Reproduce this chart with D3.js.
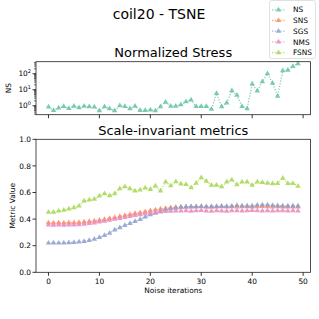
<!DOCTYPE html>
<html>
<head>
<meta charset="utf-8">
<script src="https://cdn.jsdelivr.net/npm/d3@7"></script>
<style>
  body { margin: 0; background: #fff; }
  text { font-family: "DejaVu Sans", sans-serif; fill: #000; }
</style>
</head>
<body>
<div id="chart"></div>
<script>
// ---- data ----
const iterations = d3.range(0, 50);
const seriesNames = ["NS", "SNS", "SGS", "NMS", "FSNS"];
const seriesColors = ["#66c2a5", "#fc8d62", "#8da0cb", "#e78ac3", "#a6d854"];

const nsValues = [0.83, 0.51, 0.72, 0.9, 0.69, 0.95, 0.75, 0.95, 0.88, 0.83,
  0.49, 0.88, 0.65, 0.49, 1.0, 0.9, 0.65, 0.95, 0.51, 0.51,
  0.55, 0.49, 0.88, 1.7, 0.95, 0.95, 1.15, 1.78, 2.3, 0.9,
  0.9, 0.9, 0.6, 5.8, 0.87, 1.5, 8.7, 4.5, 0.92, 0.65,
  23, 8.3, 32, 100, 26, 4, 155, 165, 290, 420];

const snsValues = [0.373, 0.372, 0.373, 0.372, 0.373, 0.374, 0.375, 0.378, 0.382, 0.386,
  0.392, 0.398, 0.405, 0.412, 0.42, 0.428, 0.435, 0.442, 0.449, 0.455,
  0.463, 0.47, 0.476, 0.481, 0.486, 0.489, 0.49, 0.492, 0.491, 0.493,
  0.494, 0.492, 0.49, 0.492, 0.493, 0.491, 0.493, 0.492, 0.494, 0.493,
  0.492, 0.494, 0.495, 0.493, 0.492, 0.493, 0.492, 0.491, 0.492, 0.491];

const sgsValues = [0.22, 0.221, 0.22, 0.221, 0.222, 0.225, 0.228, 0.233, 0.24, 0.25,
  0.262, 0.278, 0.295, 0.318, 0.335, 0.353, 0.368, 0.383, 0.398, 0.416,
  0.433, 0.444, 0.459, 0.471, 0.478, 0.483, 0.49, 0.492, 0.493, 0.494,
  0.495, 0.494, 0.496, 0.495, 0.497, 0.496, 0.498, 0.502, 0.5, 0.499,
  0.5, 0.505, 0.506, 0.507, 0.503, 0.501, 0.5, 0.499, 0.5, 0.499];

const nmsValues = [0.356, 0.355, 0.356, 0.355, 0.356, 0.357, 0.358, 0.362, 0.367, 0.372,
  0.378, 0.385, 0.392, 0.399, 0.406, 0.413, 0.42, 0.427, 0.434, 0.44,
  0.446, 0.45, 0.454, 0.457, 0.459, 0.461, 0.462, 0.463, 0.46, 0.464,
  0.465, 0.462, 0.46, 0.463, 0.462, 0.46, 0.464, 0.463, 0.461, 0.463,
  0.465, 0.463, 0.462, 0.464, 0.461, 0.463, 0.464, 0.462, 0.463, 0.461];

const fsnsValues = [0.453, 0.453, 0.461, 0.468, 0.476, 0.486, 0.5, 0.536, 0.544, 0.549,
  0.574, 0.591, 0.576, 0.591, 0.629, 0.644, 0.629, 0.611, 0.619, 0.634,
  0.624, 0.649, 0.611, 0.679, 0.651, 0.681, 0.664, 0.661, 0.636, 0.671,
  0.711, 0.686, 0.656, 0.656, 0.644, 0.679, 0.694, 0.659, 0.679, 0.679,
  0.656, 0.679, 0.676, 0.671, 0.666, 0.669, 0.707, 0.669, 0.669, 0.647];

const xTicks = [0, 10, 20, 30, 40, 50];
const metricTicks = [0, 0.2, 0.4, 0.6, 0.8, 1.0];
const nsTicks = [1, 10, 100];

// ---- layout ----
const W = 319, H = 319;
const left = 36, right = 310.5;
const top1 = 61.7, bottom1 = 114.7;
const top2 = 139.3, bottom2 = 272.3;
const tickFont = 7.4;

const svg = d3.select("#chart").append("svg")
  .attr("width", W).attr("height", H);

const x = d3.scaleLinear().domain([-2.45, 51.45]).range([left, right]);
const yNS = d3.scaleLog().domain([Math.pow(10, -0.56), Math.pow(10, 2.75)]).range([bottom1, top1]);
const yM = d3.scaleLinear().domain([0, 1]).range([bottom2, top2]);

// titles
svg.append("text").attr("x", 159).attr("y", 18.5)
  .attr("text-anchor", "middle").style("font-size", "14px").text("coil20 - TSNE");
svg.append("text").attr("x", (left + right) / 2).attr("y", 57)
  .attr("text-anchor", "middle").style("font-size", "13px").text("Normalized Stress");
svg.append("text").attr("x", (left + right) / 2).attr("y", 135)
  .attr("text-anchor", "middle").style("font-size", "13px").text("Scale-invariant metrics");

const tri = d3.symbol().type(d3.symbolTriangle).size(13);

function drawSeries(g, values, yScale, color) {
  const line = d3.line().x((d, i) => x(iterations[i])).y(d => yScale(d));
  g.append("path").datum(values)
    .attr("d", line)
    .attr("fill", "none")
    .attr("stroke", color)
    .attr("stroke-width", 1.3)
    .attr("stroke-dasharray", "1.2,1.6")
    .attr("opacity", 0.8);
  g.selectAll(null).data(values).enter().append("path")
    .attr("d", tri)
    .attr("transform", (d, i) => `translate(${x(iterations[i])},${yScale(d)})`)
    .attr("fill", color)
    .attr("opacity", 0.85);
}

// ---- top panel ----
const g1 = svg.append("g");
drawSeries(g1, nsValues, yNS, seriesColors[0]);

// minor log ticks
const minorTicks = [];
for (let e = -1; e <= 2; e++) {
  for (let m = 2; m <= 9; m++) {
    const v = m * Math.pow(10, e);
    if (v >= yNS.domain()[0] && v <= yNS.domain()[1]) minorTicks.push(v);
  }
}
g1.selectAll(".minor").data(minorTicks).enter().append("line")
  .attr("x1", left).attr("x2", left - 2)
  .attr("y1", d => yNS(d)).attr("y2", d => yNS(d))
  .attr("stroke", "#000").attr("stroke-width", 0.6);
g1.selectAll(".major").data(nsTicks).enter().append("line")
  .attr("x1", left).attr("x2", left - 3.5)
  .attr("y1", d => yNS(d)).attr("y2", d => yNS(d))
  .attr("stroke", "#000").attr("stroke-width", 0.8);
const nsLab = g1.selectAll(".nslab").data(nsTicks).enter().append("text")
  .attr("x", left - 5).attr("y", d => yNS(d) + 2.6)
  .attr("text-anchor", "end").style("font-size", tickFont + "px");
nsLab.append("tspan").text("10");
nsLab.append("tspan").attr("dy", -3).style("font-size", "5px")
  .text(d => String(Math.round(Math.log10(d))));

g1.selectAll(".xt1").data(xTicks).enter().append("line")
  .attr("x1", d => x(d)).attr("x2", d => x(d))
  .attr("y1", bottom1).attr("y2", bottom1 + 3.5)
  .attr("stroke", "#000").attr("stroke-width", 0.8);

g1.append("rect").attr("x", left).attr("y", top1)
  .attr("width", right - left).attr("height", bottom1 - top1)
  .attr("fill", "none").attr("stroke", "#222").attr("stroke-width", 0.8);

svg.append("text")
  .attr("transform", `translate(11,${(top1 + bottom1) / 2}) rotate(-90)`)
  .attr("text-anchor", "middle").style("font-size", tickFont + "px").text("NS");

// ---- bottom panel ----
const g2 = svg.append("g");
const metricValues = [snsValues, sgsValues, nmsValues, fsnsValues];
metricValues.forEach((vals, k) => drawSeries(g2, vals, yM, seriesColors[k + 1]));

g2.selectAll(".yt").data(metricTicks).enter().append("line")
  .attr("x1", left).attr("x2", left - 3.5)
  .attr("y1", d => yM(d)).attr("y2", d => yM(d))
  .attr("stroke", "#000").attr("stroke-width", 0.8);
g2.selectAll(".ylab").data(metricTicks).enter().append("text")
  .attr("x", left - 5).attr("y", d => yM(d) + 2.6)
  .attr("text-anchor", "end").style("font-size", tickFont + "px")
  .text(d => d.toFixed(1));
g2.selectAll(".xt2").data(xTicks).enter().append("line")
  .attr("x1", d => x(d)).attr("x2", d => x(d))
  .attr("y1", bottom2).attr("y2", bottom2 + 3.5)
  .attr("stroke", "#000").attr("stroke-width", 0.8);
g2.selectAll(".xlab").data(xTicks).enter().append("text")
  .attr("x", d => x(d)).attr("y", bottom2 + 11.5)
  .attr("text-anchor", "middle").style("font-size", tickFont + "px")
  .text(d => d);

g2.append("rect").attr("x", left).attr("y", top2)
  .attr("width", right - left).attr("height", bottom2 - top2)
  .attr("fill", "none").attr("stroke", "#222").attr("stroke-width", 0.8);

svg.append("text")
  .attr("transform", `translate(15,${(top2 + bottom2) / 2}) rotate(-90)`)
  .attr("text-anchor", "middle").style("font-size", tickFont + "px").text("Metric Value");
svg.append("text").attr("x", (left + right) / 2).attr("y", bottom2 + 21)
  .attr("text-anchor", "middle").style("font-size", tickFont + "px").text("Noise iterations");

// ---- legend ----
const legend = svg.append("g");
legend.append("rect").attr("x", 269.5).attr("y", 0.5)
  .attr("width", 46).attr("height", 58).attr("rx", 2)
  .attr("fill", "#fff").attr("fill-opacity", 0.85)
  .attr("stroke", "#d8d8d8").attr("stroke-width", 0.8);
const items = legend.selectAll(".item").data(seriesNames).enter().append("g")
  .attr("transform", (d, i) => `translate(0,${9.8 + i * 10.7})`);
items.append("line").attr("x1", 272).attr("x2", 285).attr("y1", 0).attr("y2", 0)
  .attr("stroke", (d, i) => seriesColors[i]).attr("stroke-width", 1.3)
  .attr("stroke-dasharray", "1.2,1.6").attr("opacity", 0.8);
items.append("path").attr("d", tri).attr("transform", "translate(278.5,0)")
  .attr("fill", (d, i) => seriesColors[i]).attr("opacity", 0.85);
items.append("text").attr("x", 293).attr("y", 2.6)
  .style("font-size", tickFont + "px").text(d => d);
</script>
</body>
</html>
